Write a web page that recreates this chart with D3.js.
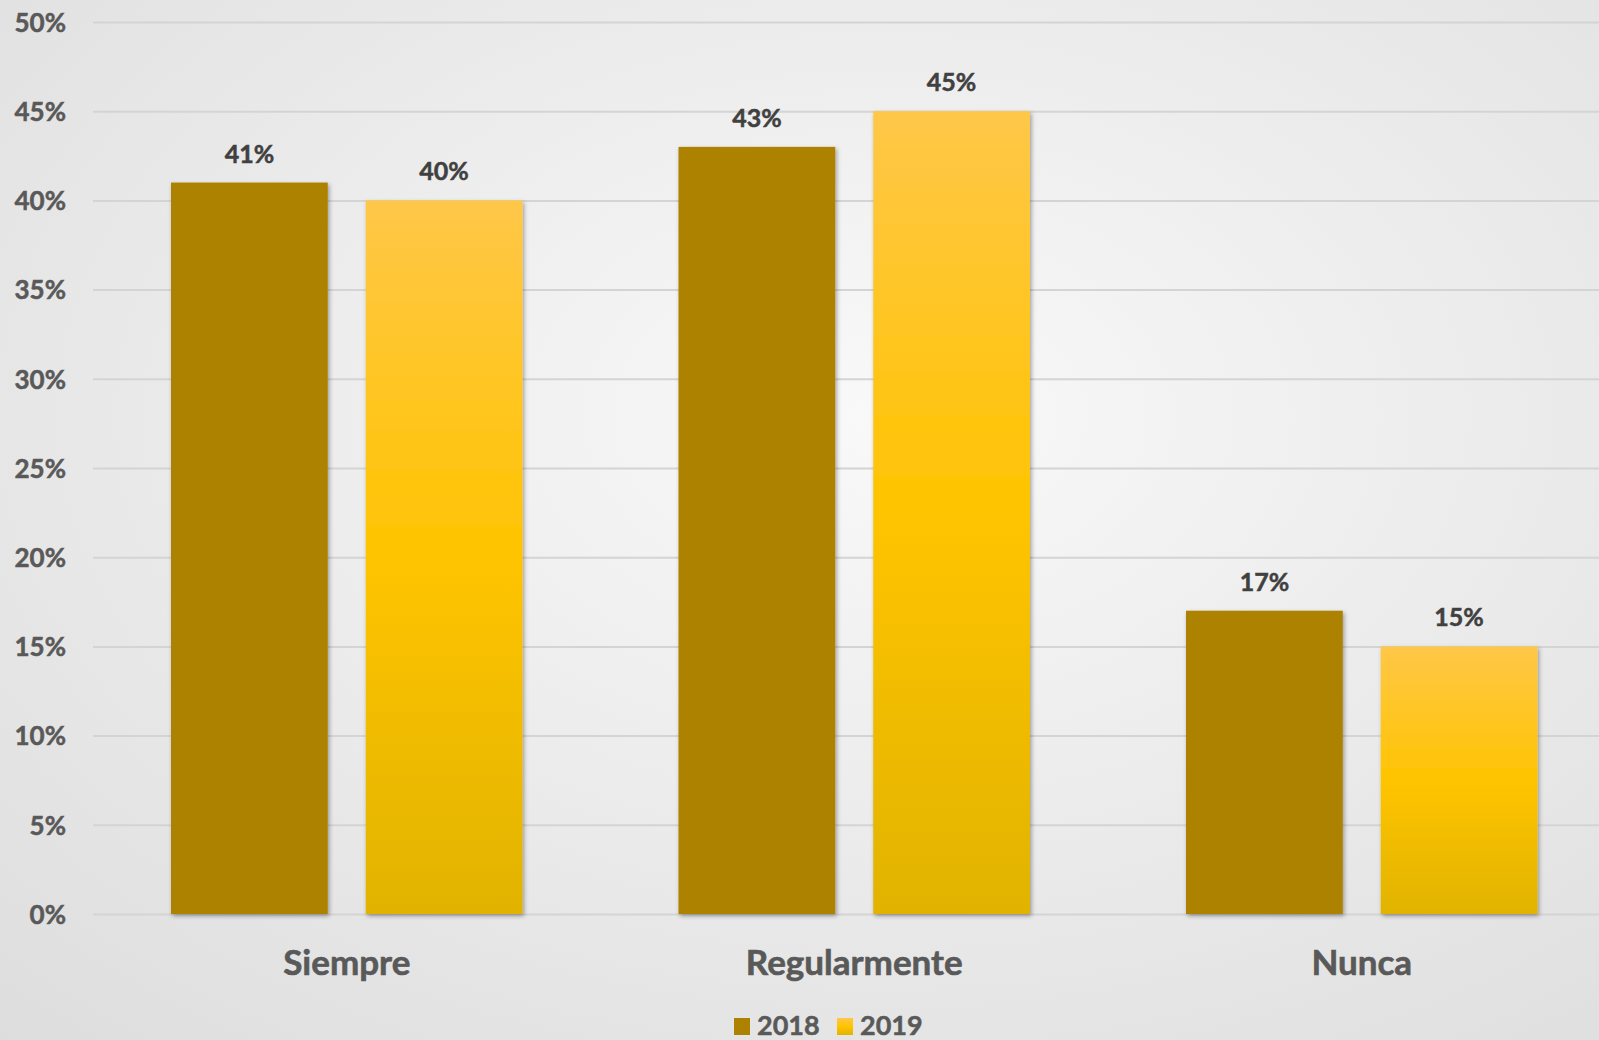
<!DOCTYPE html>
<html><head><meta charset="utf-8">
<script src="https://cdn.jsdelivr.net/npm/d3@7"></script>
<style>
html,body{margin:0;padding:0;overflow:hidden;}
svg{display:block;}
</style></head>
<body>
<script>
const categories = ["Siempre", "Regularmente", "Nunca"];
const seriesNames = ["2018", "2019"];
const values2018 = [41, 43, 17];
const values2019 = [40, 45, 15];
const yTicks = [0, 5, 10, 15, 20, 25, 30, 35, 40, 45, 50];

const W = 1599, H = 1040;
const margin = {left: 93, top: 22, bottom: 126};
const plotRight = 1615.5;
const font = "Lato, 'Open Sans', sans-serif";

const svg = d3.select("body").append("svg").attr("width", W).attr("height", H);
const defs = svg.append("defs");

const bg = defs.append("radialGradient").attr("id", "bg").attr("cx", "55%").attr("cy", "40%").attr("r", "85%");
bg.append("stop").attr("offset", "0%").attr("stop-color", "#f9f9f9");
bg.append("stop").attr("offset", "100%").attr("stop-color", "#dcdcdc");

const g19 = defs.append("linearGradient").attr("id", "g19").attr("x1", 0).attr("x2", 0).attr("y1", 0).attr("y2", 1);
g19.append("stop").attr("offset", "0%").attr("stop-color", "#ffc748");
g19.append("stop").attr("offset", "50%").attr("stop-color", "#ffc400");
g19.append("stop").attr("offset", "100%").attr("stop-color", "#e1b300");

const sh = defs.append("filter").attr("id", "shadow").attr("x", "-10%").attr("y", "-5%").attr("width", "130%").attr("height", "115%");
sh.append("feDropShadow").attr("dx", 1.5).attr("dy", 2).attr("stdDeviation", 2).attr("flood-color", "#000").attr("flood-opacity", 0.35);

svg.append("rect").attr("width", W).attr("height", H).attr("fill", "url(#bg)");

const y = d3.scaleLinear().domain([0, 50]).range([H - margin.bottom, margin.top]);
const x0 = d3.scaleBand().domain(categories).range([margin.left, plotRight]).paddingInner(0).paddingOuter(0);
const x1 = d3.scaleBand().domain(seriesNames).range([78, x0.bandwidth() - 78]).paddingInner(0.195).paddingOuter(0);

// gridlines
const yAxis = d3.axisLeft(y).tickValues(yTicks).tickSize(-(plotRight - margin.left)).tickFormat(d => d + "%").tickPadding(27);
const ga = svg.append("g").attr("transform", `translate(${margin.left},0)`).call(yAxis);
ga.select(".domain").remove();
ga.selectAll(".tick line").attr("stroke", "#d4d4d4").attr("stroke-width", 2);
ga.selectAll(".tick text").attr("fill", "#595959").attr("font-family", font).attr("font-weight", "bold").attr("font-size", 26).attr("dy", "0.36em")
  .attr("stroke", "#595959").attr("stroke-width", 0.5);

const data = categories.map((c, i) => ({cat: c, vals: [{s: "2018", v: values2018[i]}, {s: "2019", v: values2019[i]}]}));
const colors = {"2018": "#ad8200", "2019": "url(#g19)"};

const groups = svg.append("g").selectAll("g").data(data).join("g")
  .attr("transform", d => `translate(${x0(d.cat)},0)`);

groups.selectAll("rect").data(d => d.vals).join("rect")
  .attr("x", d => x1(d.s))
  .attr("y", d => y(d.v))
  .attr("width", x1.bandwidth())
  .attr("height", d => y(0) - y(d.v))
  .attr("fill", d => colors[d.s])
  .attr("filter", "url(#shadow)");

groups.selectAll("text.val").data(d => d.vals).join("text").attr("class", "val")
  .attr("x", d => x1(d.s) + x1.bandwidth() / 2)
  .attr("y", d => y(d.v) - 20)
  .attr("text-anchor", "middle")
  .attr("fill", "#404040").attr("font-family", font).attr("font-weight", "bold").attr("font-size", 25)
  .attr("stroke", "#404040").attr("stroke-width", 0.5)
  .text(d => d.v + "%");

// x axis labels
const xAxis = d3.axisBottom(x0).tickSize(0).tickPadding(0);
const gx = svg.append("g").attr("transform", `translate(0,${y(0)})`).call(xAxis);
gx.select(".domain").remove();
gx.selectAll(".tick text").attr("fill", "#595959").attr("font-family", font).attr("font-weight", "bold").attr("font-size", 35).attr("dy", 0).attr("y", 61)
  .attr("stroke", "#595959").attr("stroke-width", 0.6);

// legend
const legendX = {"2018": 734, "2019": 837};
const lg = svg.append("g");
seriesNames.forEach(s => {
  lg.append("rect").attr("x", legendX[s]).attr("y", 1018).attr("width", 16).attr("height", 17).attr("fill", colors[s]);
  lg.append("text").attr("x", legendX[s] + 23).attr("y", 1035).attr("fill", "#595959").attr("font-family", font).attr("font-weight", "bold").attr("font-size", 27)
    .attr("stroke", "#595959").attr("stroke-width", 0.5).text(s);
});
</script>
</body></html>
